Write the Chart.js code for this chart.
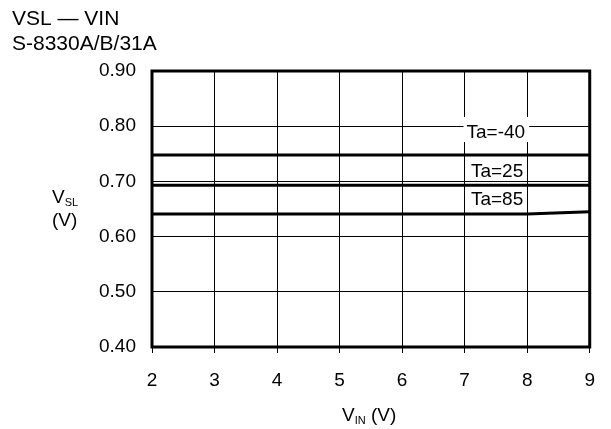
<!DOCTYPE html>
<html>
<head>
<meta charset="utf-8">
<script src="https://cdn.jsdelivr.net/npm/chart.js@4"></script>
<style>
  html, body { margin: 0; padding: 0; background: #fff; }
  #wrap { position: relative; width: 611px; height: 429px; }
</style>
</head>
<body>
<div id="wrap"><canvas id="chart" width="611" height="429"></canvas></div>
<script>
// data
const vinValues = [2, 3, 4, 5, 6, 7, 8, 9];
const vslTaMinus40 = [0.748, 0.748, 0.748, 0.748, 0.748, 0.748, 0.748, 0.748];
const vslTa25 = [0.693, 0.693, 0.693, 0.693, 0.693, 0.693, 0.693, 0.693];
const vslTa85 = [0.641, 0.641, 0.641, 0.641, 0.641, 0.641, 0.641, 0.645];
const seriesLabels = ['Ta=-40', 'Ta=25', 'Ta=85'];
const yTicks = [0.40, 0.50, 0.60, 0.70, 0.80, 0.90];

const FONT = 'Arial, "Liberation Sans", sans-serif';

function toPoints(ys) {
  return vinValues.map((x, i) => ({ x: x, y: ys[i] }));
}

// where each Ta label sits (data coords, text baseline on the left)
const labelSpots = [
  { text: seriesLabels[0], x: 7.03, y: 0.7786, box: true },
  { text: seriesLabels[1], x: 7.1, y: 0.708, box: false },
  { text: seriesLabels[2], x: 7.1, y: 0.657, box: false },
];

// V with a small subscript, then an optional tail like " (V)"
function drawSubText(ctx, x, y, main, sub, tail) {
  ctx.font = '19px ' + FONT;
  ctx.fillText(main, x, y);
  x += ctx.measureText(main).width;
  ctx.font = '11px ' + FONT;
  ctx.fillText(sub, x, y + 3);
  x += ctx.measureText(sub).width;
  if (tail) {
    ctx.font = '19px ' + FONT;
    ctx.fillText(tail, x, y);
  }
}

// frame, series labels and axis titles with subscripts
const decorPlugin = {
  id: 'decor',
  afterDatasetsDraw(chart) {
    const { ctx, chartArea, scales } = chart;
    ctx.save();
    ctx.font = '19px ' + FONT;
    ctx.textBaseline = 'alphabetic';
    ctx.textAlign = 'left';
    for (const l of labelSpots) {
      const px = scales.x.getPixelForValue(l.x);
      const py = scales.y.getPixelForValue(l.y);
      const w = ctx.measureText(l.text).width;
      if (l.box) {
        ctx.fillStyle = '#fff';
        ctx.fillRect(px - 3, py - 21, w + 7, 25);
      }
      ctx.fillStyle = '#000';
      ctx.fillText(l.text, px, py);
    }
    // thick frame
    ctx.strokeStyle = '#000';
    ctx.lineWidth = 3;
    ctx.strokeRect(chartArea.left, chartArea.top, chartArea.right - chartArea.left, chartArea.bottom - chartArea.top);
    ctx.restore();
  },
  afterDraw(chart) {
    const { ctx } = chart;
    ctx.save();
    ctx.fillStyle = '#000';
    ctx.textBaseline = 'alphabetic';
    ctx.textAlign = 'left';
    // title block
    ctx.font = '21px ' + FONT;
    ctx.fillText('VSL \u2014 VIN', 12, 25);
    ctx.fillText('S-8330A/B/31A', 12, 50);
    // y title
    drawSubText(ctx, 52, 203, 'V', 'SL', '');
    ctx.font = '19px ' + FONT;
    ctx.fillText('(V)', 52, 226);
    // x title
    drawSubText(ctx, 342, 421, 'V', 'IN', ' (V)');
    ctx.restore();
  }
};

const lineStyle = {
  borderColor: '#000',
  borderWidth: 3,
  pointRadius: 0,
  fill: false,
  tension: 0,
};

new Chart(document.getElementById('chart'), {
  type: 'line',
  data: {
    datasets: [
      Object.assign({ label: seriesLabels[0], data: toPoints(vslTaMinus40) }, lineStyle),
      Object.assign({ label: seriesLabels[1], data: toPoints(vslTa25) }, lineStyle),
      Object.assign({ label: seriesLabels[2], data: toPoints(vslTa85) }, lineStyle),
    ],
  },
  options: {
    responsive: false,
    animation: false,
    layout: { padding: { top: 71, right: 19, left: 0, bottom: 0 } },
    plugins: {
      legend: { display: false },
      tooltip: { enabled: false },
    },
    scales: {
      x: {
        type: 'linear',
        min: 2,
        max: 9,
        afterFit: (s) => { s.height = 82; },
        ticks: {
          stepSize: 1,
          color: '#000',
          font: { family: FONT, size: 19 },
          padding: 16,
        },
        grid: { color: '#000', lineWidth: 1, tickLength: 6, drawTicks: true },
        border: { display: false },
      },
      y: {
        type: 'linear',
        min: 0.4,
        max: 0.9,
        afterFit: (s) => { s.width = 152; },
        afterBuildTicks: (s) => { s.ticks = yTicks.map((v) => ({ value: v })); },
        ticks: {
          color: '#000',
          font: { family: FONT, size: 19 },
          padding: 16,
          callback: (v) => v.toFixed(2),
        },
        grid: { color: '#000', lineWidth: 1, drawTicks: false },
        border: { display: false },
      },
    },
  },
  plugins: [decorPlugin],
});
</script>
</body>
</html>
